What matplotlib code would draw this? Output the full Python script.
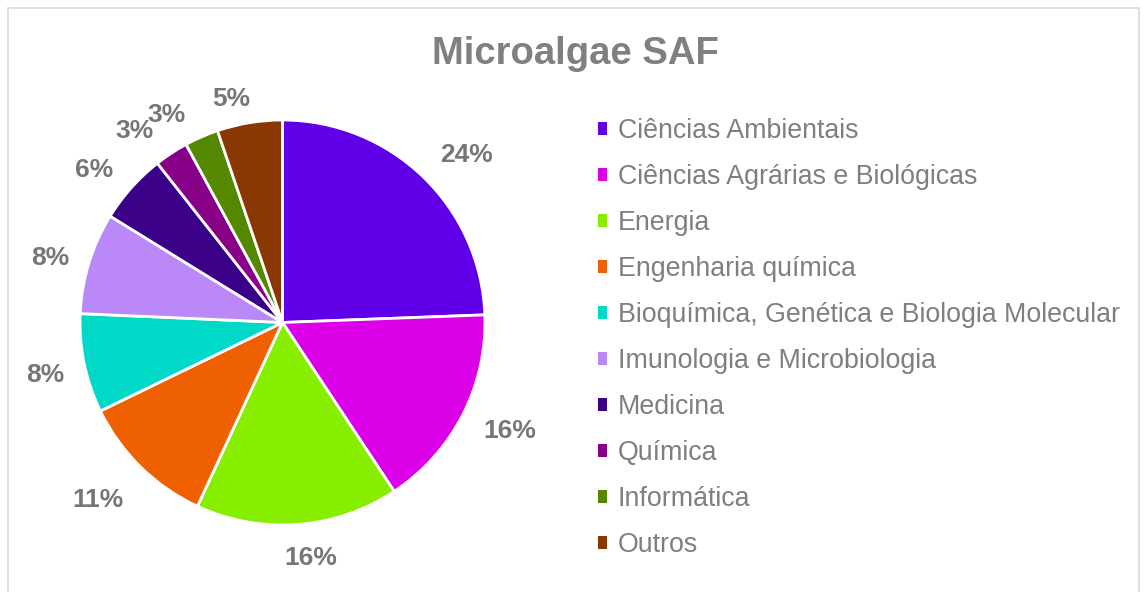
import numpy as np
import matplotlib.pyplot as plt
from matplotlib.patches import Patch, Rectangle

# ----------------------------------------------------------------
#  DATA (share of documents per subject area, %)
# ----------------------------------------------------------------
categories = ['Ciências Ambientais', 'Ciências Agrárias e Biológicas', 'Energia',
              'Engenharia química', 'Bioquímica, Genética e Biologia Molecular',
              'Imunologia e Microbiologia', 'Medicina', 'Química', 'Informática',
              'Outros']
shares = [24.4, 16.3, 16.2, 10.9, 7.9, 8.1, 5.6, 2.7, 2.7, 5.2]
colors = ['#6000E8', '#DC00E8', '#88EE00', '#EE6000', '#00D8C8',
          '#BB88F8', '#3A0088', '#880088', '#558800', '#883800']

# label placement ("best fit" look): radial distance and angular nudge (deg)
label_dist = [1.235, 1.237, 1.157, 1.254, 1.198, 1.194, 1.205, 1.204, 1.183, 1.146]
label_nudge = [-3.3, 2.2, 2.5, -2.0, 0.3, 1.1, 2.3, 4.0, 5.4, 3.3]

W, H = 1144, 592
fig = plt.figure(figsize=(W / 100, H / 100), dpi=100)
plt.rcParams['font.family'] = ['Liberation Sans', 'DejaVu Sans']

# light chart-area border
fig.patches.append(Rectangle((8 / W, -0.05), (1139 - 8) / W, (H - 8) / H + 0.05,
                             transform=fig.transFigure, fill=False,
                             edgecolor='#D9D9D9', linewidth=1.2))

# pie axes: centre (282.5, 322.5) px, radius 202.5 px
cx, cy, r = 282.5, 322.5, 202.5
ax = fig.add_axes([(cx - r) / W, (H - cy - r) / H, 2 * r / W, 2 * r / H])
wedges, _ = ax.pie(shares, colors=colors, startangle=90, counterclock=False,
                   wedgeprops=dict(edgecolor='white', linewidth=2))
ax.set_xlim(-1, 1)
ax.set_ylim(-1, 1)

total = sum(shares)
for w, s, d, n in zip(wedges, shares, label_dist, label_nudge):
    ang = np.deg2rad((w.theta1 + w.theta2) / 2 + n)
    ax.text(d * np.cos(ang), d * np.sin(ang) - 0.012, f'{100 * s / total:.0f}%',
            ha='center', va='center', fontsize=19, fontweight='bold', color='#767676')

fig.text(575 / W, 1 - 54 / H, 'Microalgae SAF', ha='center', va='center',
         fontsize=27.5, fontweight='bold', color='#808080')

handles = [Patch(facecolor=c, edgecolor='none') for c in colors]
fig.legend(handles, categories, loc='upper left', bbox_to_anchor=(598 / W, 1 - 118 / H),
           frameon=False, fontsize=19.3, labelcolor='#7F7F7F',
           handlelength=0.34, handleheight=0.34, handletextpad=0.4,
           labelspacing=0.746, borderaxespad=0, borderpad=0)

plt.savefig('out.png', dpi=100)
